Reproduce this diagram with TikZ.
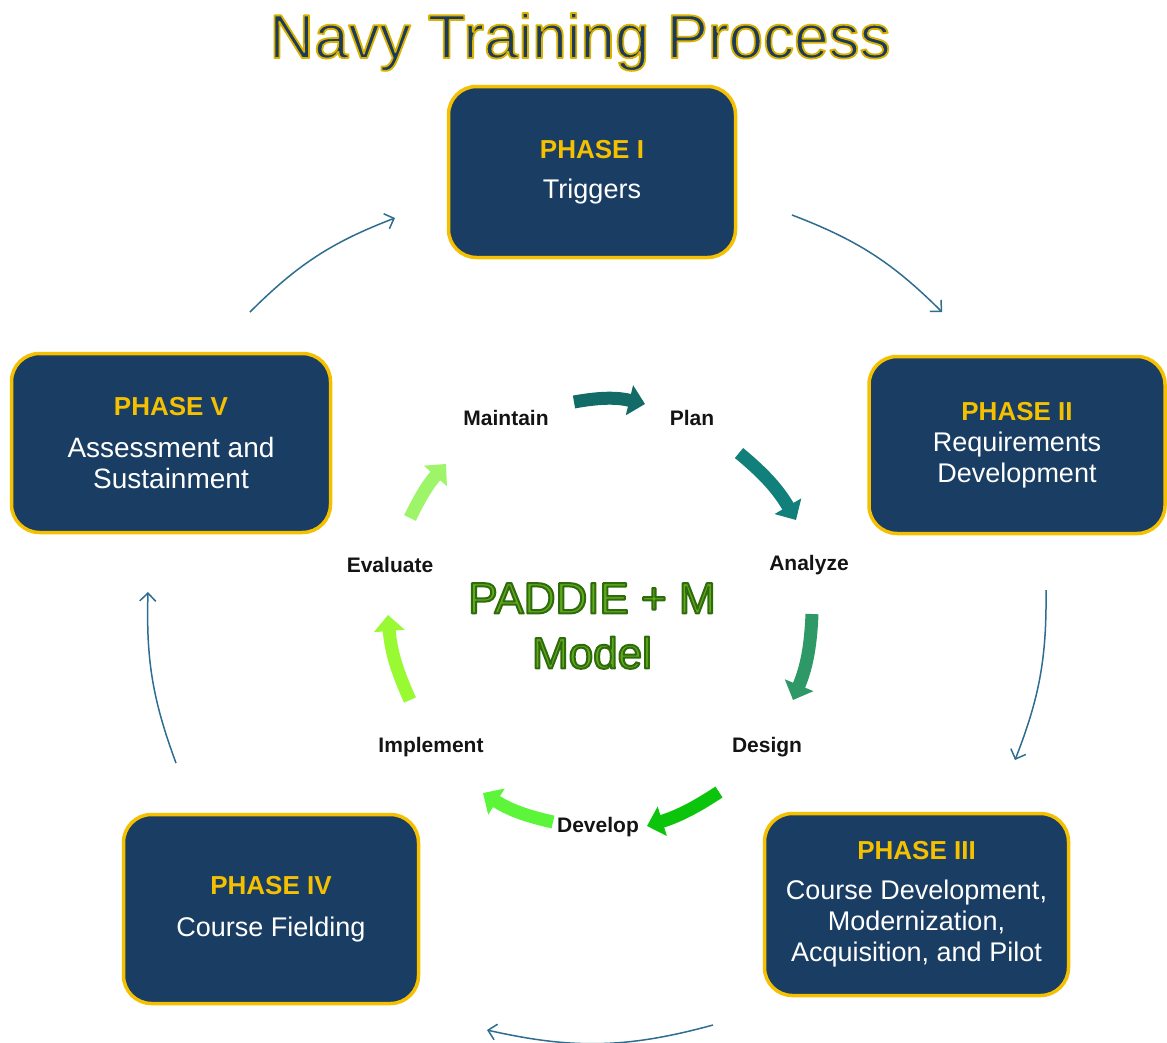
\documentclass[tikz,border=0pt]{standalone}
\usepackage{fontspec}
\setmainfont{Liberation Sans}
\usetikzlibrary{arrows.meta}
\definecolor{navy}{HTML}{1A3D63}
\definecolor{gold}{HTML}{F5C000}
\definecolor{titlenavy}{HTML}{1C3A5C}
\definecolor{steel}{HTML}{2E6D8F}
\definecolor{pmgreen}{HTML}{62A820}
\definecolor{ia1}{HTML}{126B66}
\definecolor{ia2}{HTML}{12807A}
\definecolor{ia3}{HTML}{2E9966}
\definecolor{ia4}{HTML}{0BC40B}
\definecolor{ia5}{HTML}{5CF53A}
\definecolor{ia6}{HTML}{99FA33}
\definecolor{ia7}{HTML}{9EF56A}
\tikzset{
  phasebox/.style={draw=gold, line width=3.5pt, fill=navy, rounded corners=28pt,
    inner sep=0pt, align=center, text=white, font=\fontsize{27}{31}\selectfont},
  steplabel/.style={font=\bfseries\fontsize{21}{24}\selectfont, text=black!92, inner sep=0pt},
  outerarrow/.style={draw=steel, line width=1.5pt, -{Straight Barb[length=8pt,width=16pt]}},
  innerarrow/.style={line width=13pt, -{Triangle[length=16pt,width=30pt]}},
}
\newcommand{\phhead}[1]{\textcolor{gold}{\bfseries\fontsize{26}{31}\selectfont #1}}
\newcommand{\strokedtext}[3]{\special{pdf:literal direct 1 j #1 w #2 RG 2 Tr}#3\special{pdf:literal direct 0 Tr}}
\begin{document}
\begin{tikzpicture}[x=1pt,y=-1pt]
\useasboundingbox (0,0) rectangle (1167,1042);

% title
\node[anchor=base, inner sep=0pt, text=titlenavy, font=\fontsize{62}{70}\selectfont] (title) at (580,58)
  {\strokedtext{1.8}{0.85 0.70 0}{Navy Training Process}};

% phase boxes
\node[phasebox, minimum width=287pt, minimum height=171pt] (p1) at (592,172)
  {\phhead{PHASE I}\\[9pt] Triggers};
\node[phasebox, minimum width=296pt, minimum height=177pt] (p2) at (1017,445)
  {\phhead{PHASE II}\\ Requirements\\ Development};
\node[phasebox, minimum width=304pt, minimum height=182pt] (p3) at (916.5,904.5)
  {\phhead{PHASE III}\\[9pt] Course Development,\\ Modernization,\\ Acquisition, and Pilot};
\node[phasebox, minimum width=295pt, minimum height=189pt] (p4) at (271,909)
  {\phhead{PHASE IV}\\[11pt] Course Fielding};
\node[phasebox, minimum width=319pt, minimum height=179pt, font=\fontsize{28}{31}\selectfont] (p5) at (171,443)
  {\phhead{PHASE V}\\[11pt] Assessment and\\ Sustainment};

% outer arrows
\coordinate (o1s) at (250,312); \coordinate (o1e) at (395,218);
\coordinate (o2s) at (792,215); \coordinate (o2e) at (942,312);
\coordinate (o3s) at (1046,590); \coordinate (o3e) at (1015,760);
\coordinate (o4s) at (713,1025); \coordinate (o4e) at (487,1030);
\coordinate (o5s) at (176,763); \coordinate (o5e) at (148,592);
\draw[outerarrow] (o1s) to[bend left=12] (o1e);
\draw[outerarrow] (o2s) to[bend left=12] (o2e);
\draw[outerarrow] (o3s) to[bend left=11] (o3e);
\draw[outerarrow] (o4s) to[bend left=14] (o4e);
\draw[outerarrow] (o5s) to[bend left=11] (o5e);

% centre title
\node[align=center, inner sep=0pt, text=pmgreen, font=\fontsize{44}{55}\selectfont] (pm) at (592,626)
  {\strokedtext{2}{0.18 0.42 0.04}{PADDIE + M}\\\strokedtext{2}{0.18 0.42 0.04}{Model}};

% step labels
\node[steplabel] (maint) at (506,418) {Maintain};
\node[steplabel] (plan) at (692,418) {Plan};
\node[steplabel] (analyze) at (809,565) {Analyze};
\node[steplabel] (design) at (767,747) {Design};
\node[steplabel] (develop) at (598,827) {Develop};
\node[steplabel] (implement) at (431,747) {Implement};
\node[steplabel] (evaluate) at (390,565) {Evaluate};

% inner arrows
\coordinate (a1s) at (574,402); \coordinate (a1e) at (645,404);
\coordinate (a2s) at (739,453); \coordinate (a2e) at (796,520);
\coordinate (a3s) at (812,614); \coordinate (a3e) at (793,700);
\coordinate (a4s) at (719,792); \coordinate (a4e) at (647,826);
\coordinate (a5s) at (553,822); \coordinate (a5e) at (483,793);
\coordinate (a6s) at (410,700); \coordinate (a6e) at (388,615);
\coordinate (a7s) at (410,518); \coordinate (a7e) at (446,464);
\draw[innerarrow, draw=ia1] (a1s) to[bend left=12] (a1e);
\draw[innerarrow, draw=ia2] (a2s) to[bend left=10] (a2e);
\draw[innerarrow, draw=ia3] (a3s) to[bend left=10] (a3e);
\draw[innerarrow, draw=ia4] (a4s) to[bend left=8] (a4e);
\draw[innerarrow, draw=ia5] (a5s) to[bend left=10] (a5e);
\draw[innerarrow, draw=ia6] (a6s) to[bend left=10] (a6e);
\draw[innerarrow, draw=ia7] (a7s) to[bend left=8] (a7e);
\end{tikzpicture}
\end{document}
